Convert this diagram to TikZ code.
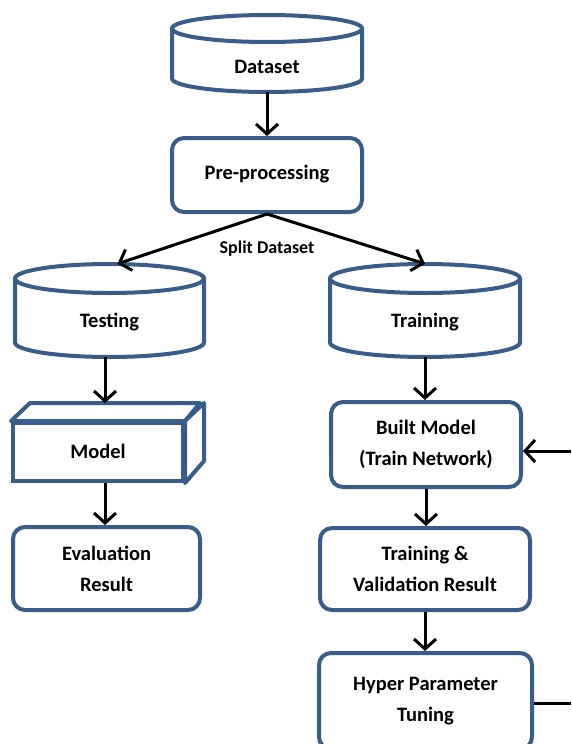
\documentclass[tikz,border=0pt]{standalone}
\usepackage{fontspec}
\setmainfont{Carlito}
\usetikzlibrary{arrows.meta,calc}
\definecolor{bxblue}{RGB}{56,93,138}
\tikzset{
 bx/.style={draw=bxblue, line width=4pt, fill=white},
 rbox/.style={bx, rounded corners=12pt, align=center, inner sep=0pt, font=\bfseries\fontsize{20.5}{31}\selectfont},
 ghost/.style={inner sep=0pt},
 lbl/.style={font=\bfseries\fontsize{20.5}{31}\selectfont, align=center},
 arr/.style={line width=3pt, -{Straight Barb[length=10pt,width=22pt]}},
 ln/.style={line width=3pt}
}
\newcommand\mycyl[5]{%
 \draw[bx] ({#1-#4},{#2+#5}) -- ({#1-#4},{#3-#5}) .. controls ({#1-#4},{#3-#5+0.5523*#5}) and ({#1-0.5523*#4},{#3}) .. ({#1},{#3}) .. controls ({#1+0.5523*#4},{#3}) and ({#1+#4},{#3-#5+0.5523*#5}) .. ({#1+#4},{#3-#5}) -- ({#1+#4},{#2+#5});
 \draw[bx] (#1,{#2+#5}) ellipse[x radius=#4, y radius=#5];
}
\begin{document}
\begin{tikzpicture}[x=1pt,y=-1pt]
\useasboundingbox (0,0) rectangle (571,744);
% Dataset cylinder
\mycyl{267}{15}{92}{95}{13.5}
\node[ghost, minimum width=190pt, minimum height=77pt] (ds) at (267,53.5) {};
\node[lbl] at (267,67) {Dataset};
% Pre-processing
\node[rbox, minimum width=190pt, minimum height=74pt] (pre) at (267,175) {\raisebox{6pt}{Pre-processing}};
% Testing cylinder
\mycyl{109.5}{264}{357}{94.5}{14.5}
\node[ghost, minimum width=189pt, minimum height=93pt] (tst) at (109.5,310.5) {};
\node[lbl] at (109.5,322) {Testing};
% Training cylinder
\mycyl{425}{264}{357}{95}{14.5}
\node[ghost, minimum width=190pt, minimum height=93pt] (trn) at (425,310.5) {};
\node[lbl] at (425,322) {Training};
% Model cuboid
\node[bx, minimum width=170pt, minimum height=58pt, inner sep=0pt] (md) at (98,452) {};
\draw[bx, line join=round] (md.north west) -- ++(19,-18) -- ++(170,0) -- (md.north east) -- cycle;
\draw[bx, line join=round] (md.north east) -- ++(19,-18) -- ++(0,58) -- (md.south east) -- cycle;
\node[lbl] at (98,451) {Model};
\coordinate (mdtop) at ($(md.north)+(0,-18)$);
% Evaluation
\node[rbox, minimum width=187pt, minimum height=83pt] (ev) at (106.5,568.5) {Evaluation\\Result};
% Built model
\node[rbox, minimum width=190pt, minimum height=85pt] (bm) at (426,444.5) {Built Model\\(Train Network)};
% Training & validation
\node[rbox, minimum width=210pt, minimum height=82pt] (tv) at (425,569) {Training \&\\Validation Result};
% Hyper parameter
\node[rbox, minimum width=213pt, minimum height=96pt] (hp) at (425.5,701) {Hyper Parameter\\Tuning};
% connectors
\draw[arr] (ds.south) -- (pre.north);
\draw[arr] (pre.south) -- ($(tst.north)+(8,0)$);
\draw[arr] (pre.south) -- (trn.north);
\node[font=\bfseries\fontsize{18}{20}\selectfont] (sl) at (267,249) {Split Dataset};
\draw[arr] ([xshift=-4.5pt]tst.south) -- ([xshift=-4.5pt]tst.south |- mdtop);
\draw[arr] ([xshift=7pt]md.south) -- ([xshift=7pt]md.south |- ev.north);
\draw[arr] (trn.south) -- (trn.south |- bm.north);
\draw[arr] (bm.south) -- (bm.south |- tv.north);
\draw[arr] (tv.south) -- (tv.south |- hp.north);
\coordinate (e1) at (571,451);
\draw[arr] (e1) -- (e1 -| bm.east);
\coordinate (e2) at (571,703);
\draw[ln] (hp.east |- e2) -- (e2);
\end{tikzpicture}
\end{document}
